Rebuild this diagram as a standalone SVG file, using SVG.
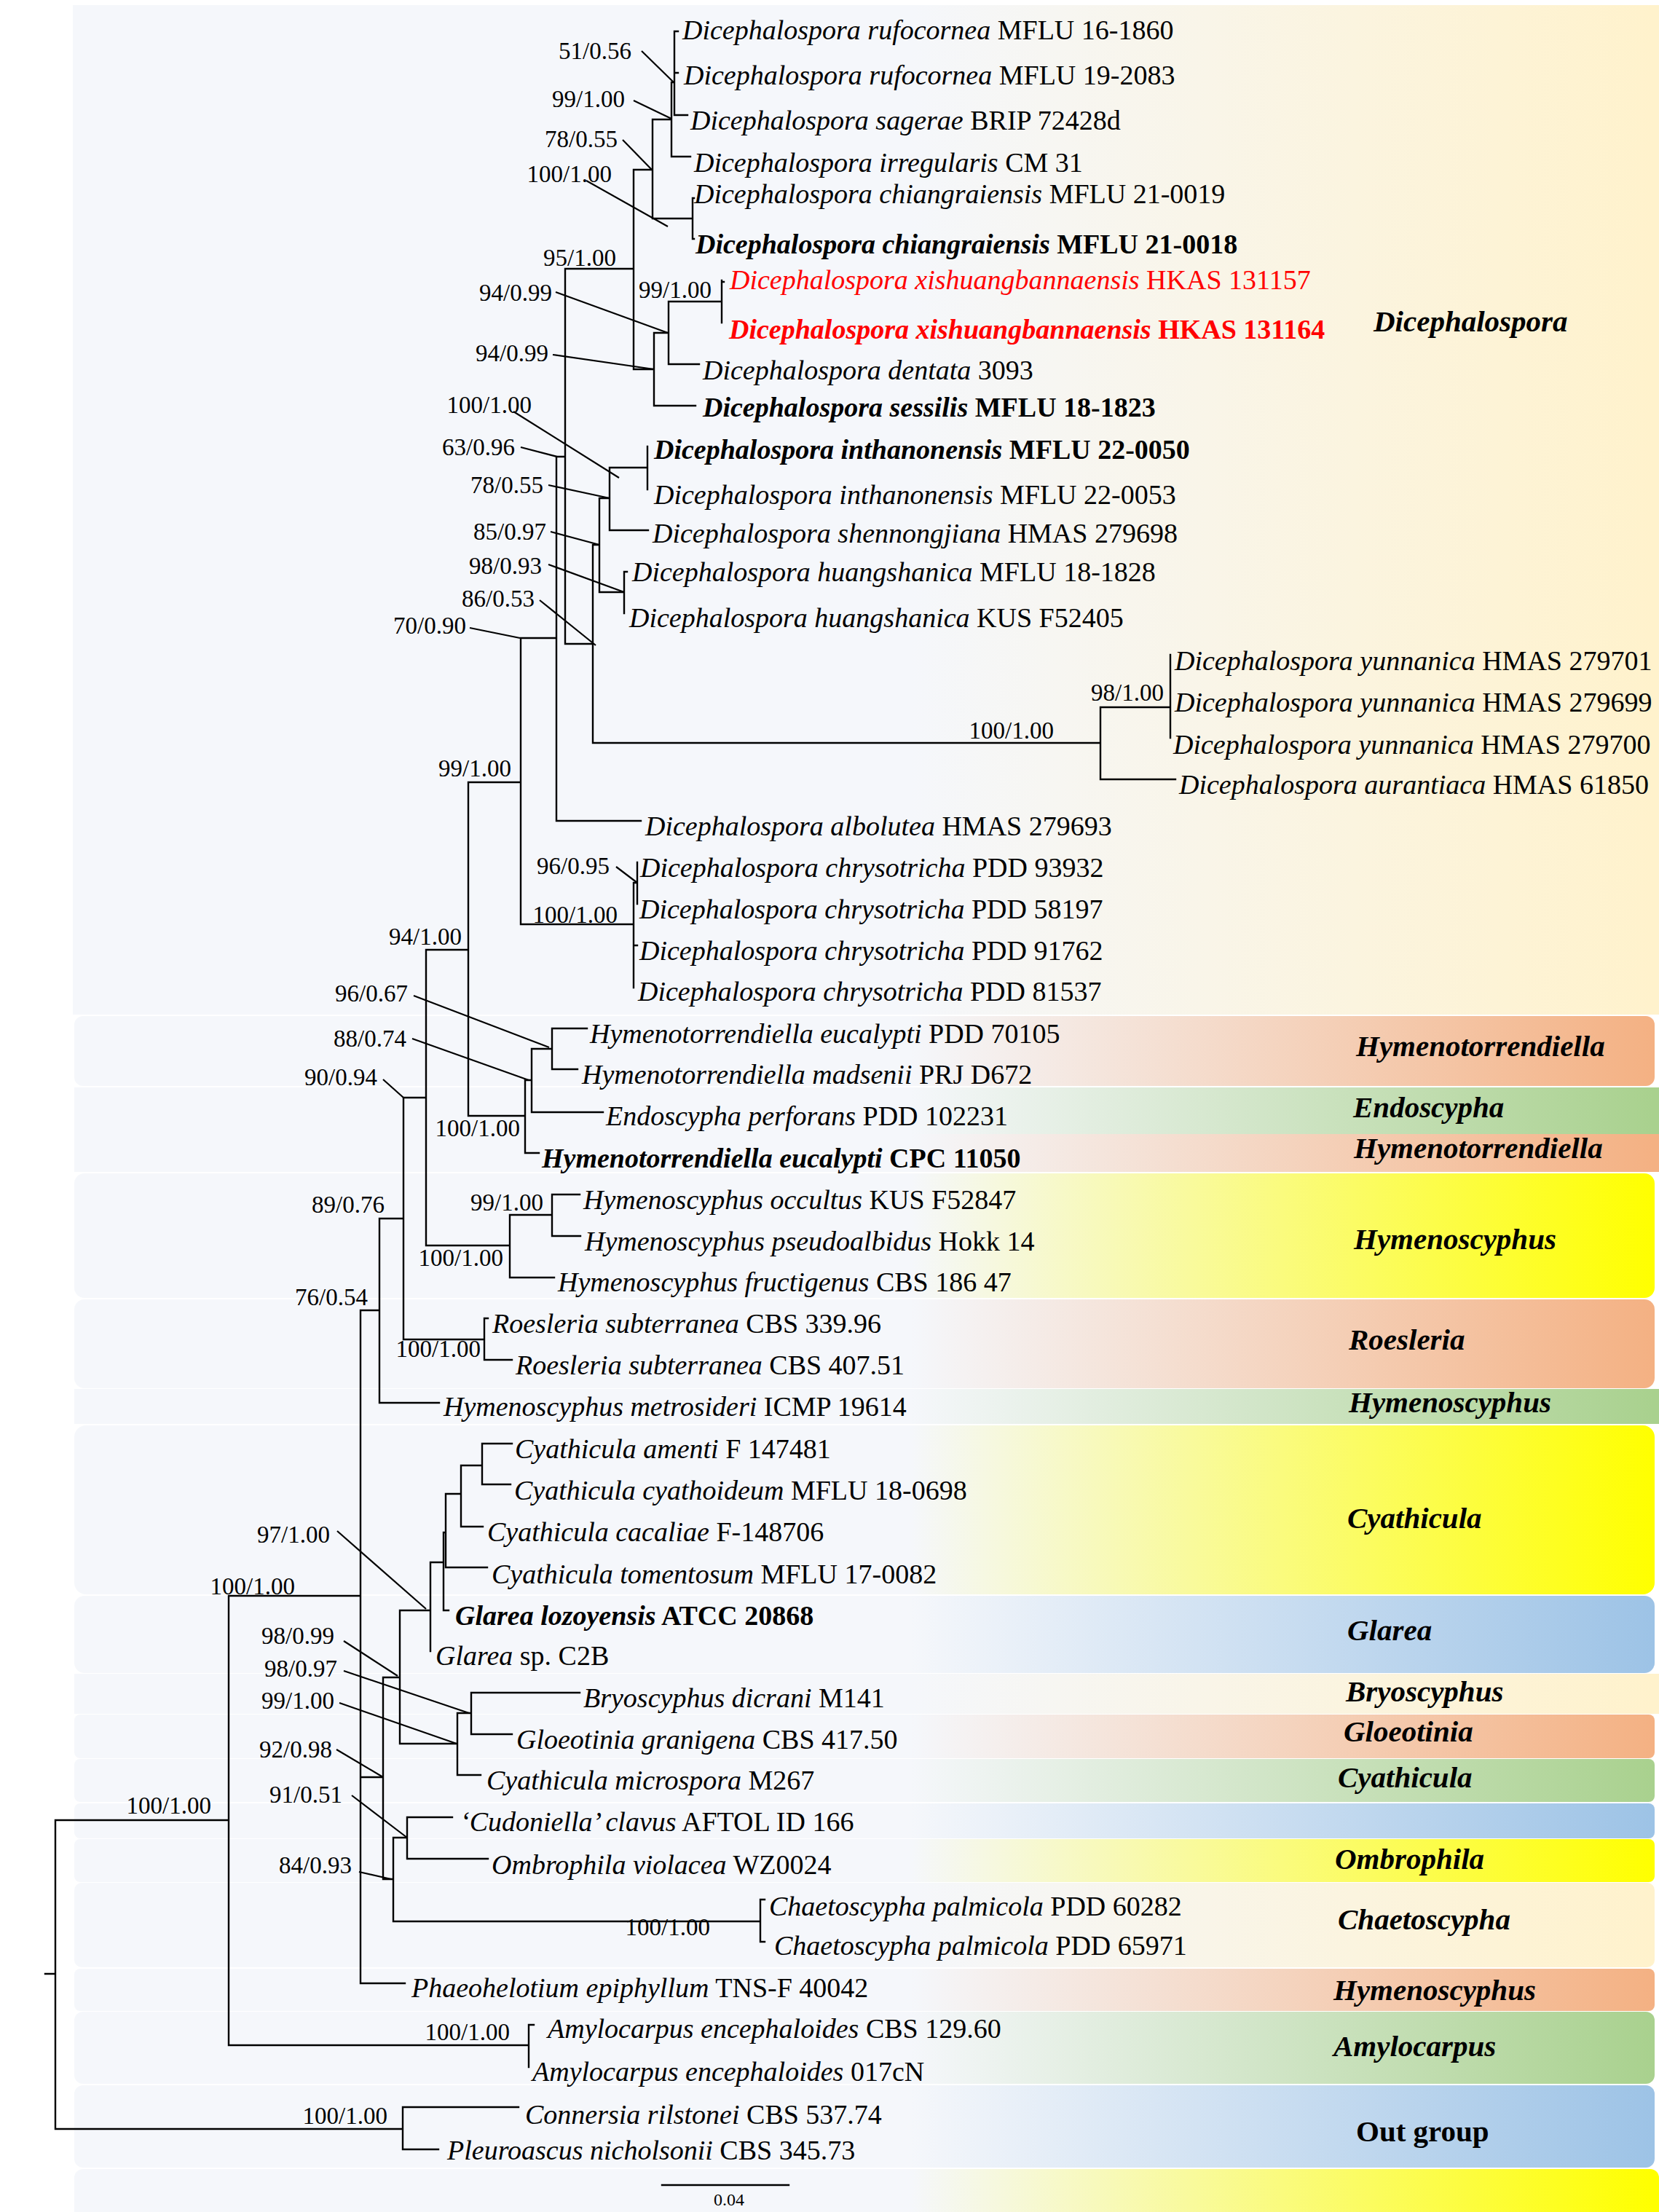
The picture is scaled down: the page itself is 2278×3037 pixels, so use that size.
<svg xmlns="http://www.w3.org/2000/svg" width="2278" height="3037" viewBox="0 0 2278 3037">
<defs>
<style>
text{font-family:"Liberation Serif","Times New Roman",serif;fill:#000}
.t{font-size:38px}
.s{font-size:33px}
.c{font-size:41px;font-weight:bold;font-style:italic}
.i{font-style:italic}
.b{font-weight:bold}
.red{fill:#ff0000}
.br{fill:none;stroke:#000;stroke-width:2.4;stroke-linecap:square}
.ld{fill:none;stroke:#000;stroke-width:2.2}
</style>
<linearGradient id="gC" gradientUnits="userSpaceOnUse" x1="1250" y1="0" x2="2270" y2="0"><stop offset="0" stop-color="#f5f7fb"/><stop offset="1" stop-color="#fff2cc"/></linearGradient>
<linearGradient id="gO" gradientUnits="userSpaceOnUse" x1="1250" y1="0" x2="2270" y2="0"><stop offset="0" stop-color="#f5f7fb"/><stop offset="1" stop-color="#f4b183"/></linearGradient>
<linearGradient id="gG" gradientUnits="userSpaceOnUse" x1="1250" y1="0" x2="2270" y2="0"><stop offset="0" stop-color="#f5f7fb"/><stop offset="1" stop-color="#a9d18e"/></linearGradient>
<linearGradient id="gY" gradientUnits="userSpaceOnUse" x1="1250" y1="0" x2="2270" y2="0"><stop offset="0" stop-color="#f5f7fb"/><stop offset="1" stop-color="#ffff00"/></linearGradient>
<linearGradient id="gB" gradientUnits="userSpaceOnUse" x1="1250" y1="0" x2="2270" y2="0"><stop offset="0" stop-color="#f5f7fb"/><stop offset="1" stop-color="#9dc3e6"/></linearGradient>
</defs>
<rect x="0" y="0" width="2278" height="3037" fill="#ffffff"/>

<g id="bands">
<g id="band-dicephalospora"><rect x="100" y="7" width="2178" height="1386" fill="url(#gC)"/><text class="c" x="1886" y="455">Dicephalospora</text></g>
<g id="band-hymenotorrendiella1"><rect x="102" y="1395" width="2170" height="96" rx="12" fill="url(#gO)"/><text class="c" x="1862" y="1450">Hymenotorrendiella</text></g>
<g id="band-endoscypha"><rect x="102" y="1493" width="2176" height="64" fill="url(#gG)"/><text class="c" x="1858" y="1534">Endoscypha</text></g>
<g id="band-hymenotorrendiella2"><rect x="102" y="1557" width="2176" height="52" fill="url(#gO)"/><text class="c" x="1859" y="1590">Hymenotorrendiella</text></g>
<g id="band-hymenoscyphus1"><rect x="102" y="1611" width="2170" height="171" rx="14" fill="url(#gY)"/><text class="c" x="1859" y="1715">Hymenoscyphus</text></g>
<g id="band-roesleria"><rect x="102" y="1784" width="2170" height="122" rx="14" fill="url(#gO)"/><text class="c" x="1852" y="1853">Roesleria</text></g>
<g id="band-hymenoscyphus2"><rect x="102" y="1907" width="2176" height="48" fill="url(#gG)"/><text class="c" x="1852" y="1939">Hymenoscyphus</text></g>
<g id="band-cyathicula1"><rect x="102" y="1957" width="2170" height="232" rx="16" fill="url(#gY)"/><text class="c" x="1850" y="2098">Cyathicula</text></g>
<g id="band-glarea"><rect x="102" y="2191" width="2170" height="106" rx="14" fill="url(#gB)"/><text class="c" x="1850" y="2252">Glarea</text></g>
<g id="band-bryoscyphus"><rect x="102" y="2298" width="2176" height="55" fill="url(#gC)"/><text class="c" x="1848" y="2336">Bryoscyphus</text></g>
<g id="band-gloeotinia"><rect x="102" y="2354" width="2170" height="60" rx="8" fill="url(#gO)"/><text class="c" x="1845" y="2391">Gloeotinia</text></g>
<g id="band-cyathicula2"><rect x="102" y="2415" width="2170" height="59" rx="8" fill="url(#gG)"/><text class="c" x="1837" y="2454">Cyathicula</text></g>
<g id="band-blank"><rect x="102" y="2476" width="2170" height="48" rx="8" fill="url(#gB)"/></g>
<g id="band-ombrophila"><rect x="102" y="2525" width="2170" height="59" rx="8" fill="url(#gY)"/><text class="c" x="1833" y="2566">Ombrophila</text></g>
<g id="band-chaetoscypha"><rect x="102" y="2585" width="2170" height="116" rx="10" fill="url(#gC)"/><text class="c" x="1837" y="2649">Chaetoscypha</text></g>
<g id="band-hymenoscyphus3"><rect x="102" y="2703" width="2170" height="58" rx="8" fill="url(#gO)"/><text class="c" x="1831" y="2746">Hymenoscyphus</text></g>
<g id="band-amylocarpus"><rect x="102" y="2762" width="2170" height="99" rx="12" fill="url(#gG)"/><text class="c" x="1831" y="2823">Amylocarpus</text></g>
<g id="band-outgroup"><rect x="102" y="2863" width="2170" height="113" rx="12" fill="url(#gB)"/><text class="c" x="1862" y="2940" style="font-style:normal">Out group</text></g>
<g id="band-bottom"><rect x="102" y="2978" width="2176" height="70" rx="12" fill="url(#gY)"/></g>
</g>

<g id="connectors">
<path class="br" d="
M926 43V158 M922 113V215 M896 164V300 M951 272V328 M870 233V507 M898 457V557 M918 414V500 M991 385V443
M776 369V884 M814 748V1020 M823 684V813 M837 642V728 M889 613V672 M857 785V842 M1511 971V1070 M1607 899V1013
M764 627V1127 M715 876V1269 M870 1213V1356 M875 1184V1241 M643 1074V1532 M721 1483V1583 M730 1440V1527 M758 1412V1468
M585 1304V1710 M700 1668V1754 M758 1640V1697 M554 1507V1839 M665 1810V1867 M521 1673V1926 M495 1799V2723
M526 2303V2580 M549 2211V2394 M591 2145V2267 M609 2104V2211 M612 2051V2152 M633 2012V2096 M662 1982V2038
M628 2352V2437 M647 2324V2381 M540 2523V2638 M559 2495V2552 M1044 2608V2666 M314 2191V2808 M726 2780V2838
M76 2499V2923 M553 2893V2951
M926 43H931 M926 100H931 M926 158H944 M922 113H926 M922 215H948 M896 164H922 M951 272H953 M951 328H953 M896 300H951
M870 233H896 M991 387H994 M918 414H991 M918 500H960 M898 457H918 M898 557H955 M870 507H898 M776 369H870
M837 642H889 M837 728H890 M823 684H837 M823 813H857 M857 785H861 M814 748H823 M814 1020H1511 M1511 971H1607
M1511 1070H1614 M776 884H814 M764 627H776 M764 1127H880 M715 876H764 M870 1212H875 M870 1298H875 M715 1269H870
M643 1074H715 M758 1412H806 M758 1468H793 M730 1440H758 M730 1527H828 M721 1483H730 M721 1583H740 M643 1532H721
M585 1304H643 M758 1640H796 M758 1697H797 M700 1668H758 M700 1754H761 M585 1710H700 M554 1507H585
M665 1810H670 M665 1867H703 M554 1839H665 M521 1673H554 M521 1926H603 M495 1799H521
M662 1982H703 M662 2038H701 M633 2012H662 M633 2096H663 M612 2051H633 M612 2152H669 M609 2104H612 M609 2211H616
M591 2145H609 M549 2211H591 M647 2324H796 M647 2381H703 M628 2352H647 M628 2437H660 M549 2394H628 M526 2303H549
M559 2495H621 M559 2552H670 M540 2523H559 M1044 2608H1050 M1044 2666H1050 M540 2638H1044 M526 2580H540
M495 2440H526 M495 2723H556 M314 2191H495 M726 2780H733 M314 2808H726 M76 2499H314
M553 2893H712 M553 2951H602 M76 2923H553 M62 2710H76"/>
<path class="ld" d="
M881 70L925 113 M870 138L922 163 M855 192L895 233 M805 248L917 311 M763 401L917 457 M759 487L898 507
M705 565L850 656 M715 614L765 627 M753 666L837 684 M756 730L823 748 M753 775L857 813 M741 824L818 886
M645 862L714 876 M846 1190L875 1212 M568 1367L754 1438 M566 1426L726 1483 M526 1482L554 1507
M463 2102L585 2209 M472 2253L546 2301 M472 2294L644 2352 M466 2338L627 2394 M462 2402L526 2440
M483 2465L559 2523 M493 2570L537 2580"/>
<path class="br" d="M909 3000H1083"/>
</g>

<g id="support">
<text class="s" x="867" y="81" text-anchor="end">51/0.56</text>
<text class="s" x="858" y="147" text-anchor="end">99/1.00</text>
<text class="s" x="848" y="202" text-anchor="end">78/0.55</text>
<text class="s" x="840" y="250" text-anchor="end">100/1.00</text>
<text class="s" x="846" y="365" text-anchor="end">95/1.00</text>
<text class="s" x="977" y="409" text-anchor="end">99/1.00</text>
<text class="s" x="758" y="413" text-anchor="end">94/0.99</text>
<text class="s" x="753" y="496" text-anchor="end">94/0.99</text>
<text class="s" x="730" y="567" text-anchor="end">100/1.00</text>
<text class="s" x="707" y="625" text-anchor="end">63/0.96</text>
<text class="s" x="746" y="677" text-anchor="end">78/0.55</text>
<text class="s" x="750" y="741" text-anchor="end">85/0.97</text>
<text class="s" x="744" y="788" text-anchor="end">98/0.93</text>
<text class="s" x="734" y="833" text-anchor="end">86/0.53</text>
<text class="s" x="640" y="870" text-anchor="end">70/0.90</text>
<text class="s" x="1598" y="962" text-anchor="end">98/1.00</text>
<text class="s" x="1447" y="1014" text-anchor="end">100/1.00</text>
<text class="s" x="702" y="1066" text-anchor="end">99/1.00</text>
<text class="s" x="837" y="1200" text-anchor="end">96/0.95</text>
<text class="s" x="848" y="1267" text-anchor="end">100/1.00</text>
<text class="s" x="634" y="1297" text-anchor="end">94/1.00</text>
<text class="s" x="560" y="1375" text-anchor="end">96/0.67</text>
<text class="s" x="558" y="1437" text-anchor="end">88/0.74</text>
<text class="s" x="518" y="1490" text-anchor="end">90/0.94</text>
<text class="s" x="714" y="1560" text-anchor="end">100/1.00</text>
<text class="s" x="746" y="1662" text-anchor="end">99/1.00</text>
<text class="s" x="528" y="1665" text-anchor="end">89/0.76</text>
<text class="s" x="691" y="1738" text-anchor="end">100/1.00</text>
<text class="s" x="505" y="1792" text-anchor="end">76/0.54</text>
<text class="s" x="660" y="1863" text-anchor="end">100/1.00</text>
<text class="s" x="453" y="2118" text-anchor="end">97/1.00</text>
<text class="s" x="405" y="2189" text-anchor="end">100/1.00</text>
<text class="s" x="459" y="2257" text-anchor="end">98/0.99</text>
<text class="s" x="463" y="2302" text-anchor="end">98/0.97</text>
<text class="s" x="459" y="2346" text-anchor="end">99/1.00</text>
<text class="s" x="456" y="2413" text-anchor="end">92/0.98</text>
<text class="s" x="470" y="2475" text-anchor="end">91/0.51</text>
<text class="s" x="290" y="2490" text-anchor="end">100/1.00</text>
<text class="s" x="483" y="2572" text-anchor="end">84/0.93</text>
<text class="s" x="975" y="2657" text-anchor="end">100/1.00</text>
<text class="s" x="700" y="2801" text-anchor="end">100/1.00</text>
<text class="s" x="532" y="2916" text-anchor="end">100/1.00</text>
<text x="1001" y="3028" text-anchor="middle" style="font-size:24px">0.04</text>
</g>

<g id="taxa">
<g id="tx01"><text class="t" x="937" y="54"><tspan class="i">Dicephalospora rufocornea</tspan> MFLU 16-1860</text></g>
<g id="tx02"><text class="t" x="939" y="116"><tspan class="i">Dicephalospora rufocornea</tspan> MFLU 19-2083</text></g>
<g id="tx03"><text class="t" x="948" y="178"><tspan class="i">Dicephalospora sagerae</tspan> BRIP 72428d</text></g>
<g id="tx04"><text class="t" x="953" y="236"><tspan class="i">Dicephalospora irregularis</tspan> CM 31</text></g>
<g id="tx05"><text class="t" x="953" y="279"><tspan class="i">Dicephalospora chiangraiensis</tspan> MFLU 21-0019</text></g>
<g id="tx06"><text class="t b" x="955" y="348"><tspan class="i">Dicephalospora chiangraiensis</tspan> MFLU 21-0018</text></g>
<g id="tx07"><text class="t red" x="1002" y="397"><tspan class="i">Dicephalospora xishuangbannaensis</tspan> HKAS 131157</text></g>
<g id="tx08"><text class="t b red" x="1001" y="465"><tspan class="i">Dicephalospora xishuangbannaensis</tspan> HKAS 131164</text></g>
<g id="tx09"><text class="t" x="965" y="521"><tspan class="i">Dicephalospora dentata</tspan> 3093</text></g>
<g id="tx10"><text class="t b" x="965" y="572"><tspan class="i">Dicephalospora sessilis</tspan> MFLU 18-1823</text></g>
<g id="tx11"><text class="t b" x="898" y="630"><tspan class="i">Dicephalospora inthanonensis</tspan> MFLU 22-0050</text></g>
<g id="tx12"><text class="t" x="898" y="692"><tspan class="i">Dicephalospora inthanonensis</tspan> MFLU 22-0053</text></g>
<g id="tx13"><text class="t" x="896" y="745"><tspan class="i">Dicephalospora shennongjiana</tspan> HMAS 279698</text></g>
<g id="tx14"><text class="t" x="868" y="798"><tspan class="i">Dicephalospora huangshanica</tspan> MFLU 18-1828</text></g>
<g id="tx15"><text class="t" x="864" y="861"><tspan class="i">Dicephalospora huangshanica</tspan> KUS F52405</text></g>
<g id="tx16"><text class="t" x="1613" y="920"><tspan class="i">Dicephalospora yunnanica</tspan> HMAS 279701</text></g>
<g id="tx17"><text class="t" x="1613" y="977"><tspan class="i">Dicephalospora yunnanica</tspan> HMAS 279699</text></g>
<g id="tx18"><text class="t" x="1611" y="1035"><tspan class="i">Dicephalospora yunnanica</tspan> HMAS 279700</text></g>
<g id="tx19"><text class="t" x="1619" y="1090"><tspan class="i">Dicephalospora aurantiaca</tspan> HMAS 61850</text></g>
<g id="tx20"><text class="t" x="886" y="1147"><tspan class="i">Dicephalospora albolutea</tspan> HMAS 279693</text></g>
<g id="tx21"><text class="t" x="879" y="1204"><tspan class="i">Dicephalospora chrysotricha</tspan> PDD 93932</text></g>
<g id="tx22"><text class="t" x="878" y="1261"><tspan class="i">Dicephalospora chrysotricha</tspan> PDD 58197</text></g>
<g id="tx23"><text class="t" x="878" y="1318"><tspan class="i">Dicephalospora chrysotricha</tspan> PDD 91762</text></g>
<g id="tx24"><text class="t" x="876" y="1374"><tspan class="i">Dicephalospora chrysotricha</tspan> PDD 81537</text></g>
<g id="tx25"><text class="t" x="810" y="1432"><tspan class="i">Hymenotorrendiella eucalypti</tspan> PDD 70105</text></g>
<g id="tx26"><text class="t" x="799" y="1488"><tspan class="i">Hymenotorrendiella madsenii</tspan> PRJ D672</text></g>
<g id="tx27"><text class="t" x="832" y="1545"><tspan class="i">Endoscypha perforans</tspan> PDD 102231</text></g>
<g id="tx28"><text class="t b" x="744" y="1603"><tspan class="i">Hymenotorrendiella eucalypti</tspan> CPC 11050</text></g>
<g id="tx29"><text class="t" x="801" y="1660"><tspan class="i">Hymenoscyphus occultus</tspan> KUS F52847</text></g>
<g id="tx30"><text class="t" x="803" y="1717"><tspan class="i">Hymenoscyphus pseudoalbidus</tspan> Hokk 14</text></g>
<g id="tx31"><text class="t" x="766" y="1773"><tspan class="i">Hymenoscyphus fructigenus</tspan> CBS 186 47</text></g>
<g id="tx32"><text class="t" x="676" y="1830"><tspan class="i">Roesleria subterranea</tspan> CBS 339.96</text></g>
<g id="tx33"><text class="t" x="708" y="1887"><tspan class="i">Roesleria subterranea</tspan> CBS 407.51</text></g>
<g id="tx34"><text class="t" x="609" y="1944"><tspan class="i">Hymenoscyphus metrosideri</tspan> ICMP 19614</text></g>
<g id="tx35"><text class="t" x="707" y="2002"><tspan class="i">Cyathicula amenti</tspan> F 147481</text></g>
<g id="tx36"><text class="t" x="706" y="2059"><tspan class="i">Cyathicula cyathoideum</tspan> MFLU 18-0698</text></g>
<g id="tx37"><text class="t" x="669" y="2116"><tspan class="i">Cyathicula cacaliae</tspan> F-148706</text></g>
<g id="tx38"><text class="t" x="675" y="2174"><tspan class="i">Cyathicula tomentosum</tspan> MFLU 17-0082</text></g>
<g id="tx39"><text class="t b" x="625" y="2231"><tspan class="i">Glarea lozoyensis</tspan> ATCC 20868</text></g>
<g id="tx40"><text class="t" x="598" y="2286"><tspan class="i">Glarea</tspan> sp. C2B</text></g>
<g id="tx41"><text class="t" x="801" y="2344"><tspan class="i">Bryoscyphus dicrani</tspan> M141</text></g>
<g id="tx42"><text class="t" x="709" y="2401"><tspan class="i">Gloeotinia granigena</tspan> CBS 417.50</text></g>
<g id="tx43"><text class="t" x="668" y="2457"><tspan class="i">Cyathicula microspora</tspan> M267</text></g>
<g id="tx44"><text class="t" x="632" y="2514"><tspan class="i">‘Cudoniella’ clavus</tspan> AFTOL ID 166</text></g>
<g id="tx45"><text class="t" x="675" y="2573"><tspan class="i">Ombrophila violacea</tspan> WZ0024</text></g>
<g id="tx46"><text class="t" x="1056" y="2630"><tspan class="i">Chaetoscypha palmicola</tspan> PDD 60282</text></g>
<g id="tx47"><text class="t" x="1063" y="2684"><tspan class="i">Chaetoscypha palmicola</tspan> PDD 65971</text></g>
<g id="tx48"><text class="t" x="565" y="2742"><tspan class="i">Phaeohelotium epiphyllum</tspan> TNS-F 40042</text></g>
<g id="tx49"><text class="t" x="752" y="2798"><tspan class="i">Amylocarpus encephaloides</tspan> CBS 129.60</text></g>
<g id="tx50"><text class="t" x="731" y="2857"><tspan class="i">Amylocarpus encephaloides</tspan> 017cN</text></g>
<g id="tx51"><text class="t" x="721" y="2916"><tspan class="i">Connersia rilstonei</tspan> CBS 537.74</text></g>
<g id="tx52"><text class="t" x="614" y="2965"><tspan class="i">Pleuroascus nicholsonii</tspan> CBS 345.73</text></g>
</g>
</svg>
